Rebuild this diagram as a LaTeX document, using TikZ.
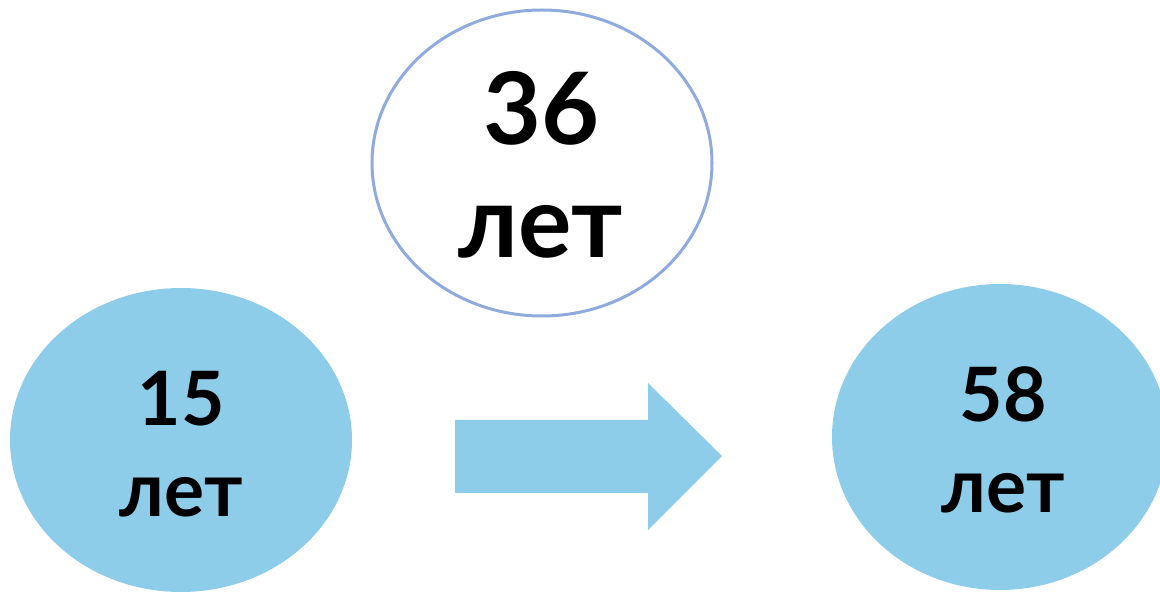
\documentclass[tikz,border=0pt]{standalone}
\usepackage{fontspec}
\setmainfont{Lato}[UprightFont=* Bold]
\usetikzlibrary{shapes.geometric}
\definecolor{fillblue}{HTML}{8ECDEA}
\definecolor{lineblue}{HTML}{8FAADC}
\tikzset{
  bubble/.style={ellipse, inner sep=0pt, fill=fillblue, draw=none},
  hollow/.style={ellipse, inner sep=0pt, fill=white, draw=lineblue, line width=3pt},
  bigtxt/.style={anchor=base, inner sep=0pt, font=\fontsize{100}{100}\selectfont},
  midtxt/.style={anchor=base, inner sep=0pt, font=\fontsize{75}{75}\selectfont},
}
\begin{document}
\begin{tikzpicture}[x=1pt,y=-1pt]
\useasboundingbox (0,0) rectangle (1160,593);
\begin{scope}
\clip (0,0) rectangle (1160,593);
\node[hollow, minimum width=340pt, minimum height=306pt] (top) at (542,163) {};
\node[bubble, minimum width=342pt, minimum height=304pt] (left) at (181,440) {};
\node[bubble, minimum width=336pt, minimum height=306pt] (right) at (1000,437) {};
\fill[fillblue] (455,420) -- (648,420) -- (648,383) -- (722,456) -- (648,530) -- (648,493) -- (455,493) -- cycle;
\end{scope}
\node[bigtxt] (t1) at (541,145) {36};
\node[bigtxt] (t2) at (541,258) {лет};
\node[midtxt] (l1) at (181,426) {15};
\node[midtxt] (l2) at (181,516) {лет};
\node[midtxt] (r1) at (1003,422) {58};
\node[midtxt] (r2) at (1003,512) {лет};
\end{tikzpicture}
\end{document}
